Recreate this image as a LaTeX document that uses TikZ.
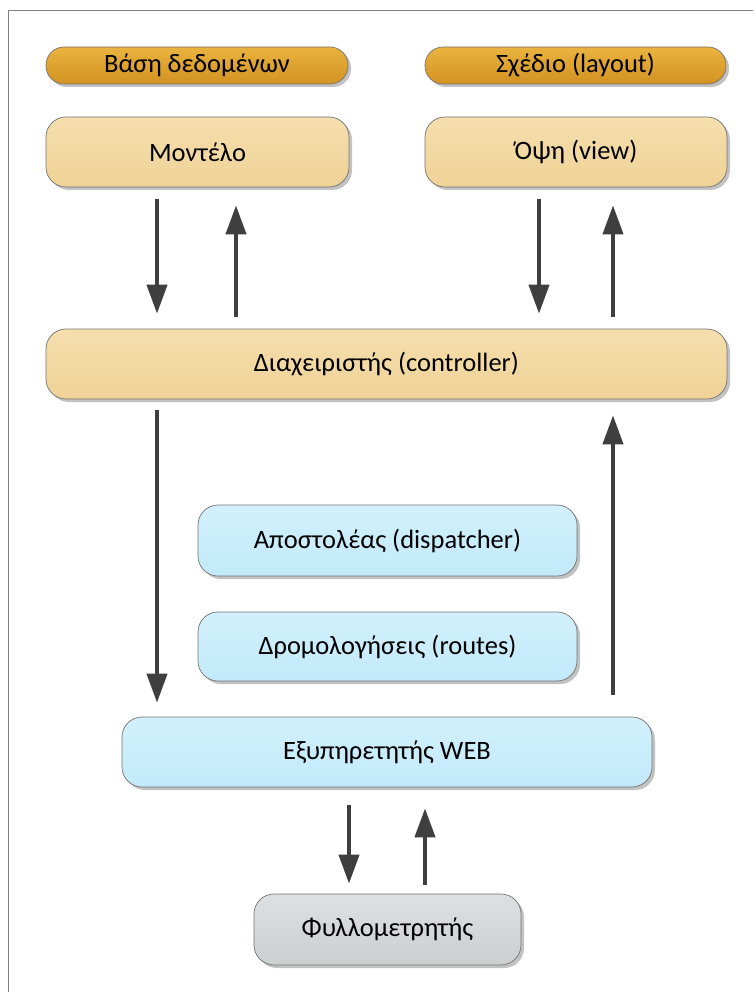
\documentclass[tikz,border=0pt]{standalone}
\usepackage{fontspec}
\setmainfont{Carlito}
\usetikzlibrary{arrows.meta,shadows}

\definecolor{darktop}{HTML}{EAB33F}
\definecolor{darkbot}{HTML}{D29222}
\definecolor{tantop}{HTML}{F5DFAE}
\definecolor{tanbot}{HTML}{EFD296}
\definecolor{bluetop}{HTML}{D2F0FC}
\definecolor{bluebot}{HTML}{C2EAFA}
\definecolor{greytop}{HTML}{DCE0E0}
\definecolor{greybot}{HTML}{CBCFCF}
\definecolor{arrowgrey}{HTML}{3F3F3F}

\begin{document}
\begin{tikzpicture}[x=1pt,y=1pt,
                    every node/.style = {shape=rectangle, align=center,
                      rounded corners=20pt, draw=black!55, line width=0.7pt,
                      inner sep=0pt, font=\fontsize{26.5}{30}\selectfont,
                      drop shadow={shadow xshift=3pt, shadow yshift=-3pt,
                                   fill=black!40, opacity=0.6}},
                    pill/.style = {rounded corners=18pt, minimum height=37pt,
                      top color=darktop, bottom color=darkbot},
                    tanbox/.style = {minimum height=70pt,
                      top color=tantop, bottom color=tanbot},
                    bluebox/.style = {minimum height=70pt,
                      top color=bluetop, bottom color=bluebot},
                    greybox/.style = {minimum height=71pt,
                      top color=greytop, bottom color=greybot},
                    flow/.style = {draw=arrowgrey, line width=4pt,
                      -{Triangle[length=29pt,width=20pt]},
                      shorten <=12pt, shorten >=15pt}]
  \useasboundingbox (0,0) rectangle (753,-992);
  \draw[black!50, line width=1pt] (8,-992) -- (8,-11) -- (753,-11);

  % top row
  \node[pill, minimum width=302pt] (db) at (197,-65.5) {Βάση δεδομένων};
  \node[pill, minimum width=301pt] (layout) at (575.5,-65.5) {Σχέδιο (layout)};
  \node[tanbox, minimum width=303pt] (model) at (197.5,-152) {Μοντέλο};
  \node[tanbox, minimum width=302pt] (view) at (576,-152) {Όψη (view)};

  % controller
  \node[tanbox, minimum width=681pt] (ctrl) at (386.5,-364) {Διαχειριστής (controller)};

  % web side
  \node[bluebox, minimum width=379pt, minimum height=71pt] (disp) at (387.5,-540.5) {Αποστολέας (dispatcher)};
  \node[bluebox, minimum width=379pt, minimum height=69pt] (routes) at (387.5,-646.5) {Δρομολογήσεις (routes)};
  \node[bluebox, minimum width=530pt] (web) at (387,-752) {Εξυπηρετητής WEB};
  \node[greybox, minimum width=267pt] (browser) at (387.5,-929.5) {Φυλλομετρητής};

  % arrows
  \draw[flow] ([xshift=-40.5pt]model.south) -- ([xshift=-229.5pt]ctrl.north);
  \draw[flow, shorten >=18pt] ([xshift=-150.5pt]ctrl.north) -- ([xshift=38.5pt]model.south);
  \draw[flow] ([xshift=-37pt]view.south) -- ([xshift=152.5pt]ctrl.north);
  \draw[flow, shorten >=18pt] ([xshift=226.5pt]ctrl.north) -- ([xshift=37pt]view.south);

  \draw[flow, shorten <=11pt, shorten >=14pt] ([xshift=-229.5pt]ctrl.south) -- ([xshift=-230pt]web.north);
  \draw[flow, shorten <=22pt, shorten >=16pt] ([xshift=226pt]web.north) -- ([xshift=226.5pt]ctrl.south);

  \draw[flow, shorten <=18pt, shorten >=10pt] ([xshift=-38pt]web.south) -- ([xshift=-38.5pt]browser.north);
  \draw[flow, shorten <=9pt, shorten >=21pt] ([xshift=37.5pt]browser.north) -- ([xshift=38pt]web.south);
\end{tikzpicture}
\end{document}
